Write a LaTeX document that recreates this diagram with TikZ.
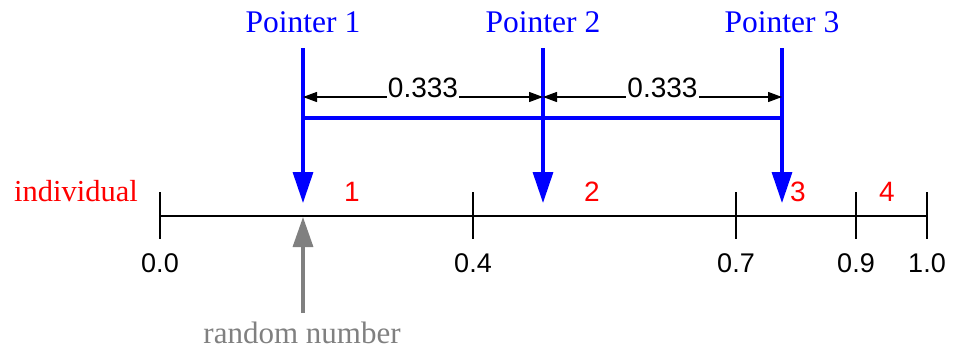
\documentclass[tikz,border=0pt]{standalone}
\usepackage{fontspec}
\setmainfont{Liberation Serif}
\newfontfamily\numfont{Liberation Sans}
\usetikzlibrary{arrows.meta}

\begin{document}
\begin{tikzpicture}[
    x=1pt, y=-1pt,
    every node/.style={inner sep=0pt, anchor=base},
    ptrlabel/.style={text=blue, font=\fontsize{31.5}{34}\selectfont},
    ptr/.style={draw=blue, line width=3.3pt, -{Triangle[length=31pt,width=20pt]}},
    bar/.style={draw=blue, line width=3.3pt},
    dim/.style={draw=black, line width=1.3pt, {Triangle[length=14pt,width=10pt]}-{Triangle[length=14pt,width=10pt]}},
    dimlabel/.style={fill=white, inner xsep=1pt, inner ysep=2pt, font=\numfont\fontsize{28}{30}\selectfont},
    axis/.style={draw=black, line width=1.8pt},
    ticklabel/.style={font=\numfont\fontsize{27}{30}\selectfont},
    indlabel/.style={text=red, font=\numfont\fontsize{28}{30}\selectfont},
    rnd/.style={draw=gray, line width=3.3pt, -{Triangle[length=30pt,width=20pt]}}
]
\useasboundingbox (0,0) rectangle (956,348);

% individuals on the line
\node[text=red, font=\fontsize{30.5}{32}\selectfont] (ind) at (76,201) {individual};
\foreach \x/\n in {352/1, 592/2, 798/3, 887/4}
    \node[indlabel] (i\n) at (\x,201) {\n};

% the line with its ticks
\coordinate (l0) at (160,216);
\coordinate (l1) at (927,216);
\draw[axis] (l0) -- (l1);
\foreach \x/\l/\n in {160/0.0/a, 473/0.4/b, 736/0.7/c, 856/0.9/d, 927/1.0/e} {
    \coordinate (k\n) at (\x,192);
    \coordinate (m\n) at (\x,239);
    \draw[axis] (k\n) -- (m\n);
    \node[ticklabel] (t\n) at (\x,272) {\l};
}

% pointers
\foreach \x/\n in {303/1, 543/2, 782/3} {
    \node[ptrlabel] (p\n) at (\x,32) {Pointer \n};
    \coordinate (a\n) at (\x,48);
    \coordinate (b\n) at (\x,203);
    \coordinate (c\n) at (\x,118);
    \coordinate (d\n) at (\x,97);
    \draw[ptr] (a\n) -- (b\n);
}
\draw[bar] (c1) -- (c3);
\draw[dim] (d1) -- node[dimlabel] (s1) {0.333} (d2);
\draw[dim] (d2) -- node[dimlabel] (s2) {0.333} (d3);

% random number
\node[text=gray, font=\fontsize{31}{33}\selectfont] (rn) at (302,343) {random number};
\coordinate (r0) at (303,313);
\coordinate (r1) at (303,217);
\draw[rnd] (r0) -- (r1);
\end{tikzpicture}
\end{document}
